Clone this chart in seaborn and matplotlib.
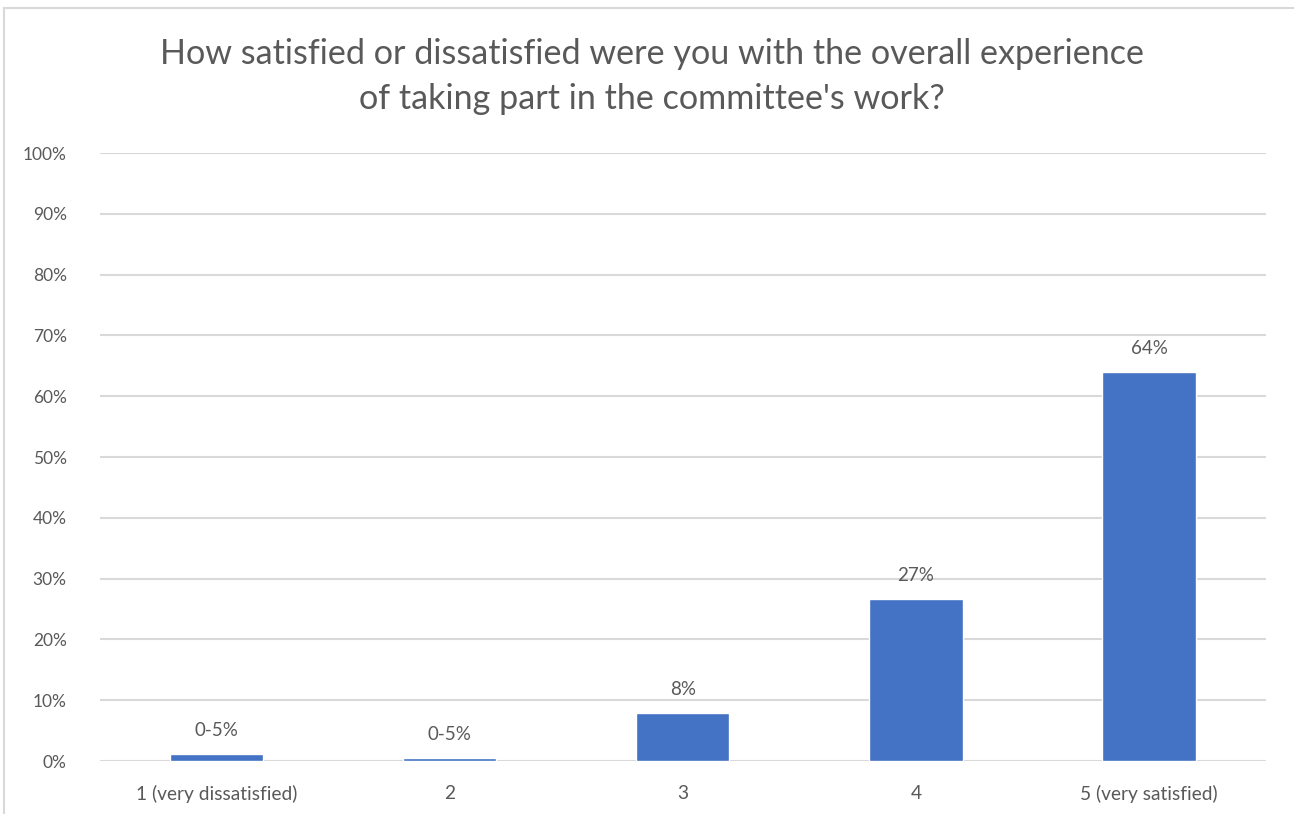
import matplotlib
matplotlib.use("Agg")
import matplotlib.pyplot as plt
import seaborn as sns
import pandas as pd
from matplotlib.patches import Rectangle
from matplotlib.ticker import MultipleLocator, PercentFormatter

categories = ["1 (very dissatisfied)", "2", "3", "4", "5 (very satisfied)"]
values = [1.2, 0.5, 7.9, 26.6, 64.0]
bar_labels = ["0-5%", "0-5%", "8%", "27%", "64%"]

sns.set_theme(style="white")
plt.rcParams["font.family"] = ["Lato", "DejaVu Sans"]

text_col = "#595959"
grid_col = "#D9D9D9"
bar_col = "#4472C4"

df = pd.DataFrame({"rating": categories, "pct": values})

fig = plt.figure(figsize=(12.94, 8.14), dpi=100)
ax = fig.add_axes([0.0773, 0.065, 0.9007, 0.747])

sns.barplot(data=df, x="rating", y="pct", color=bar_col, width=0.4,
            saturation=1, ax=ax, zorder=3)

ax.set_ylim(0, 100)
ax.set_xlim(-0.5, 4.5)
ax.yaxis.set_major_locator(MultipleLocator(10))
ax.yaxis.set_major_formatter(PercentFormatter(decimals=0))
ax.grid(axis="y", color=grid_col, linewidth=1.5, zorder=0)
ax.set_axisbelow(True)
for s in ax.spines.values():
    s.set_visible(False)
ax.set_xlabel("")
ax.set_ylabel("")
ax.tick_params(axis="y", length=0, labelsize=12.5, colors=text_col, pad=24)
ax.tick_params(axis="x", length=0, labelsize=13.8, colors=text_col, pad=17)

for i, (v, lab) in enumerate(zip(values, bar_labels)):
    ax.annotate(lab, (i, v), xytext=(0, 11), textcoords="offset points",
                ha="center", va="bottom", fontsize=13.5, color=text_col)

fig.text(0.504, 0.906, "How satisfied or dissatisfied were you with the overall experience\nof taking part in the committee's work?",
         ha="center", va="center", fontsize=24.6, color=text_col, linespacing=1.5)

# chart frame (screenshot border)
fig.patches.append(Rectangle((0.003, -0.05), 1.1, 1.04, transform=fig.transFigure,
                             fill=False, edgecolor="#D9D9D9", linewidth=1.5))

fig.savefig("out.png", dpi=100)
